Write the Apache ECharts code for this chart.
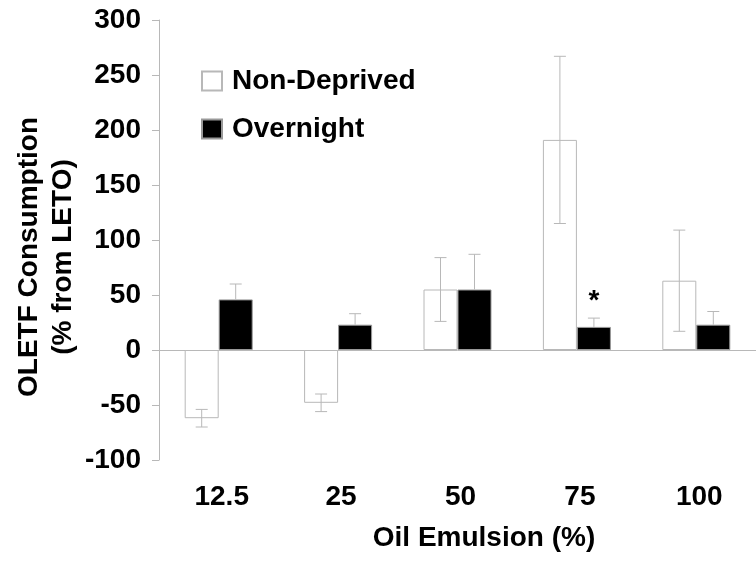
<!DOCTYPE html>
<html>
<head>
<meta charset="utf-8">
<script src="https://cdn.jsdelivr.net/npm/echarts@6/dist/echarts.min.js"></script>
<style>html,body{margin:0;padding:0;background:#fff;}#c{width:756px;height:562px;}</style>
</head>
<body>
<div id="c"></div>
<script>
var categories = ['12.5', '25', '50', '75', '100'];
var nonDeprived = [-62, -48, 55, 191, 63];
var nonDeprivedSem = [8, 8, 29, 76, 46];
var overnight = [46, 23, 55, 21, 23];
var overnightSem = [14, 10, 32, 8, 12];
var yTicks = {min: -100, max: 300, interval: 50};
var sigIndex = 3;

var FONT = '"Liberation Sans", Arial, sans-serif';
var GRAY = '#b8b8b8';
var BAR_W = 34;

function errData(vals, sems, side) {
  return vals.map(function (v, i) { return [i, v, sems[i], side]; });
}

function renderErr(params, api) {
  var i = api.value(0), v = api.value(1), s = api.value(2), side = api.value(3);
  var off = side * BAR_W / 2;
  var top = api.coord([i, v + s]);
  var bot = api.coord([i, side < 0 ? v - s : v]);
  var x = top[0] + off;
  var cap = 6;
  var st = {stroke: GRAY, lineWidth: 1};
  var children = [
    {type: 'line', shape: {x1: x, y1: top[1], x2: x, y2: bot[1]}, style: st},
    {type: 'line', shape: {x1: x - cap, y1: top[1], x2: x + cap, y2: top[1]}, style: st}
  ];
  if (side < 0) {
    children.push({type: 'line', shape: {x1: x - cap, y1: bot[1], x2: x + cap, y2: bot[1]}, style: st});
  }
  return {type: 'group', children: children};
}

var overnightData = overnight.map(function (v, i) {
  if (i === sigIndex) {
    return {value: v, label: {show: true, position: 'top', distance: 12, formatter: '*',
      fontFamily: FONT, fontWeight: 'bold', fontSize: 28, color: '#000'}};
  }
  return v;
});

var chart = echarts.init(document.getElementById('c'));
chart.setOption({
  animation: false,
  backgroundColor: '#fff',
  grid: [
    {left: 159, top: 20, width: 608, height: 440},
    {left: 159, top: 20, right: 0, height: 440}
  ],
  legend: {
    orient: 'vertical', left: 201, top: 67, padding: 0,
    icon: 'rect',
    itemWidth: 20, itemHeight: 19, itemGap: 20,
    textStyle: {fontFamily: FONT, fontWeight: 'bold', fontSize: 28, lineHeight: 20, color: '#000',
      padding: [0, 0, 0, 5]},
    data: ['Non-Deprived', 'Overnight']
  },
  xAxis: [
    {type: 'category', gridIndex: 0, data: categories, position: 'bottom',
      axisLine: {show: false, onZero: false}, axisTick: {show: false},
      axisLabel: {margin: 23, padding: [0, 0, 0, 6], fontFamily: FONT, fontWeight: 'bold', fontSize: 28, color: '#000'}},
    {type: 'value', gridIndex: 1, min: 0, max: 1, show: true,
      axisLine: {show: true, onZero: true, lineStyle: {color: GRAY, width: 1}},
      axisTick: {show: false}, axisLabel: {show: false}, splitLine: {show: false}}
  ],
  yAxis: [
    {type: 'value', gridIndex: 0, min: yTicks.min, max: yTicks.max, interval: yTicks.interval,
      axisLine: {show: true, lineStyle: {color: GRAY, width: 1}},
      axisTick: {show: true, length: 7, lineStyle: {color: GRAY}},
      splitLine: {show: false},
      axisLabel: {margin: 18, fontFamily: FONT, fontWeight: 'bold', fontSize: 28, color: '#000'}},
    {type: 'value', gridIndex: 1, min: yTicks.min, max: yTicks.max, show: false}
  ],
  graphic: [
    {type: 'text', x: 484, y: 538, style: {text: 'Oil Emulsion (%)', fontFamily: FONT, fontWeight: 'bold',
      fontSize: 28, fill: '#000', align: 'center', verticalAlign: 'middle'}},
    {type: 'text', x: 29, y: 257, rotation: Math.PI / 2, style: {text: 'OLETF Consumption', fontFamily: FONT,
      fontWeight: 'bold', fontSize: 28, fill: '#000', align: 'center', verticalAlign: 'middle'}},
    {type: 'text', x: 63, y: 257, rotation: Math.PI / 2, style: {text: '(% from LETO)', fontFamily: FONT,
      fontWeight: 'bold', fontSize: 28, fill: '#000', align: 'center', verticalAlign: 'middle'}}
  ],
  series: [
    {name: 'Non-Deprived', type: 'bar', xAxisIndex: 0, yAxisIndex: 0, data: nonDeprived,
      barWidth: BAR_W, barGap: '0%',
      itemStyle: {color: '#fff', borderColor: GRAY, borderWidth: 1}},
    {name: 'Overnight', type: 'bar', xAxisIndex: 0, yAxisIndex: 0, data: overnightData,
      barWidth: BAR_W, barGap: '0%',
      itemStyle: {color: '#000', borderColor: '#999', borderWidth: 1}},
    {type: 'custom', xAxisIndex: 0, yAxisIndex: 0, renderItem: renderErr,
      data: errData(nonDeprived, nonDeprivedSem, -1), z: 5},
    {type: 'custom', xAxisIndex: 0, yAxisIndex: 0, renderItem: renderErr,
      data: errData(overnight, overnightSem, 1), z: 5}
  ]
});
</script>
</body>
</html>
